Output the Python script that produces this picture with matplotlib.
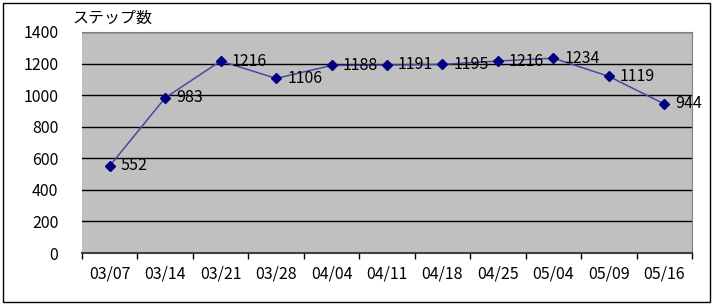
import matplotlib.pyplot as plt
from matplotlib.patches import Rectangle

plt.rcParams['font.family'] = ['Noto Sans CJK JP', 'DejaVu Sans']

# data
dates = ['03/07', '03/14', '03/21', '03/28', '04/04', '04/11',
         '04/18', '04/25', '05/04', '05/09', '05/16']
steps = [552, 983, 1216, 1106, 1188, 1191, 1195, 1216, 1234, 1119, 944]
y_ticks = [0, 200, 400, 600, 800, 1000, 1200, 1400]

fs = 11.5

fig = plt.figure(figsize=(7.14, 3.06), dpi=100)
fig.patches.append(Rectangle((0.004, 0.012), 0.99, 0.978, transform=fig.transFigure,
                             fill=False, edgecolor='black', linewidth=1.0))

ax = fig.add_axes([82 / 714, 1 - 253 / 306, 610 / 714, 221 / 306])
ax.set_facecolor('#c0c0c0')

x = list(range(len(dates)))
ax.plot(x, steps, color='#4848a0', linewidth=1.1, zorder=3)
ax.plot(x, steps, linestyle='none', marker='D', markersize=5.5,
        color='#000080', zorder=4)
for xi, v in zip(x, steps):
    ax.annotate(str(v), (xi, v), xytext=(8, 0), textcoords='offset points',
                ha='left', va='center', fontsize=fs, zorder=5)

ax.set_xlim(-0.5, len(dates) - 0.5)
ax.set_ylim(0, 1400)
ax.set_yticks(y_ticks)
ax.set_yticklabels([str(t) for t in y_ticks], fontsize=fs)
ax.tick_params(axis='y', length=0, pad=17)
for t in y_ticks[1:]:
    ax.axhline(t, color='black', linewidth=1.0, zorder=1)

# category ticks between points, labels centred under each point
ax.set_xticks([i + 0.5 for i in range(-1, len(dates))])
ax.set_xticklabels([])
ax.set_xticks(x, minor=True)
ax.set_xticklabels(dates, minor=True, fontsize=fs)
ax.tick_params(axis='x', which='major', direction='out', length=4, width=1)
ax.tick_params(axis='x', which='minor', length=0, pad=9)

for side in ['top', 'right']:
    ax.spines[side].set_color('#808080')
    ax.spines[side].set_linewidth(0.8)
ax.spines['left'].set_visible(False)
ax.spines['bottom'].set_color('#404040')
ax.spines['bottom'].set_linewidth(1.5)

fig.text(72 / 714, 1 - 18 / 306, 'ステップ数', fontsize=fs, va='center', ha='left')

fig.savefig('out.png', dpi=100)
